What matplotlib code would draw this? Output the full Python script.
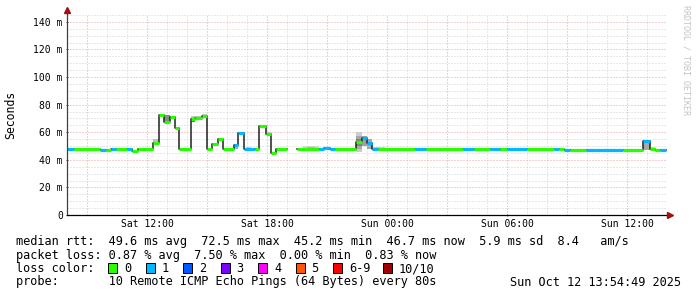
import matplotlib
matplotlib.use("Agg")
import matplotlib.pyplot as plt
from matplotlib.patches import Rectangle
import numpy as np

# median rtt segments (hours since Sat 00:00), ms, loss index
seg_start = [8.0, 8.35, 9.65, 9.95, 10.2, 10.45, 11.0, 11.25, 11.55, 12.3, 12.6, 12.85, 13.15, 13.4,
             13.6, 14.2, 14.4, 14.75, 15.0, 15.25, 15.55, 15.8, 16.35, 16.55, 16.85, 17.4, 17.6, 17.95,
             18.2, 18.45, 19.5, 20.6, 20.85, 21.15, 21.4, 22.45, 22.75, 23.0, 23.25, 23.55, 25.4, 25.95,
             27.8, 28.35, 29.15, 29.65, 30.0, 31.0, 32.35, 32.6, 32.85, 33.15, 33.95, 35.8, 36.8, 37.15,
             37.4, 37.65]
seg_end = seg_start[1:] + [37.95]
seg_end[29] = 19.0  # no data between 19:00 and 19:30
median = [47.5, 47.5, 47.0, 47.0, 47.5, 47.5, 47.5, 46.2, 47.5, 52.0, 72.3, 67.7, 71.0, 63.0,
          47.5, 69.6, 70.0, 71.5, 47.5, 51.7, 55.1, 47.5, 51.0, 59.3, 47.5, 47.5, 64.8, 59.0,
          45.2, 47.5, 47.5, 47.6, 48.6, 47.5, 47.5, 53.2, 55.8, 52.5, 47.5, 47.5, 47.5, 47.5,
          47.5, 47.5, 47.5, 47.5, 47.5, 47.5, 47.5, 47.5, 46.8, 46.8, 46.8, 46.8, 53.6, 47.8,
          46.8, 46.8]
loss = [1, 0, 1, 0, 1, 0, 1, 0, 0, 0, 0, 0, 0, 0,
        0, 0, 0, 0, 0, 0, 0, 0, 1, 1, 1, 0, 0, 0,
        0, 0, 0, 1, 1, 1, 0, 0, 1, 1, 1, 0, 1, 0,
        1, 0, 1, 0, 1, 0, 1, 0, 1, 0, 1, 0, 1, 0,
        0, 1]

# smoke (spread of the pings): start, end, low, high, shade
smoke_start = [11.8, 12.3, 12.3, 12.85, 14.2, 14.2, 14.75, 15.0, 16.35, 16.95, 17.95, 19.8, 20.0,
               21.4, 22.45, 22.45, 22.45, 22.75, 23.0, 23.25, 24.05, 26.45, 31.55, 36.35, 36.8, 37.15]
smoke_end = [12.0, 12.6, 12.6, 13.15, 14.75, 14.4, 15.0, 15.25, 16.55, 17.2, 18.2, 20.6, 20.4,
             21.65, 22.75, 22.75, 22.75, 23.0, 23.25, 23.9, 24.8, 26.75, 31.8, 36.55, 37.15, 37.4]
smoke_lo = [47.5, 50.5, 50.5, 67.0, 69.0, 67.5, 71.0, 47.5, 47.5, 47.5, 58.0, 47.5, 48.5,
            47.5, 45.5, 48.0, 50.0, 50.0, 47.5, 47.5, 47.5, 47.5, 47.5, 46.8, 46.8, 47.8]
smoke_hi = [48.5, 55.0, 52.0, 72.5, 72.0, 70.0, 73.0, 48.5, 51.0, 49.5, 60.0, 50.0, 49.5,
            48.5, 60.5, 57.0, 55.0, 57.0, 55.0, 49.5, 48.3, 48.3, 48.3, 48.0, 53.0, 49.3]
smoke_shade = ['#d0d0d0', '#c0c0c0', '#808080', '#8a8a8a', '#c4c4c4', '#707070', '#c8c8c8', '#d4d4d4',
               '#b0b0b0', '#d0d0d0', '#c8c8c8', '#d4d4d4', '#b8b8b8', '#d4d4d4', '#cccccc', '#a8a8a8',
               '#808080', '#a0a0a0', '#a8a8a8', '#d0d0d0', '#d4d4d4', '#d4d4d4', '#d0d0d0', '#d0d0d0',
               '#a8a8a8', '#d0d0d0']

loss_colors = ['#26ff00', '#00b8ff', '#0059ff', '#7e00ff', '#ff00ff', '#ff5500', '#ff0000', '#a10000']
loss_labels = ['0', '1', '2', '3', '4', '5', '6-9', '10/10']

y_ticks = [0, 20, 40, 60, 80, 100, 120, 140]
y_ticklabels = ['0', '20 m', '40 m', '60 m', '80 m', '100 m', '120 m', '140 m']
x_ticks = [12, 18, 24, 30, 36]
x_ticklabels = ['Sat 12:00', 'Sat 18:00', 'Sun 00:00', 'Sun 06:00', 'Sun 12:00']

legend_lines = [
    "median rtt:  49.6 ms avg  72.5 ms max  45.2 ms min  46.7 ms now  5.9 ms sd  8.4   am/s",
    "packet loss: 0.87 % avg  7.50 % max  0.00 % min  0.83 % now",
    "loss color:",
    "probe:       10 Remote ICMP Echo Pings (64 Bytes) every 80s",
]
stamp = "Sun Oct 12 13:54:49 2025"

W, H = 697, 297
mono = 'DejaVu Sans Mono'
fig = plt.figure(figsize=(W / 100, H / 100), dpi=100)
ax = fig.add_axes([67 / W, (H - 215) / H, 600 / W, 200 / H])
ax.set_xlim(8, 38)
ax.set_ylim(0, 145)

# grid
for h in np.arange(9, 38, 1):
    major = (h % 3 == 0)
    ax.axvline(h, color='#e8a4a4' if major else '#d2d2d2', lw=0.72, ls=(0, (1, 2)), zorder=0)
for v in np.arange(5, 146, 5):
    major = (v % 20 == 0)
    ax.axhline(v, color='#e8a4a4' if major else '#d2d2d2', lw=0.72, ls=(0, (1, 2)), zorder=0)

# smoke
for s, e, lo, hi, c in zip(smoke_start, smoke_end, smoke_lo, smoke_hi, smoke_shade):
    ax.fill_between([s, e], lo, hi, color=c, lw=0, zorder=1)

# black step line connecting medians
xs, ys = [], []
for i in range(len(seg_start)):
    if i > 0 and seg_start[i] > seg_end[i - 1] + 1e-6:
        xs.append(np.nan)
        ys.append(np.nan)
    xs += [seg_start[i], seg_end[i]]
    ys += [median[i], median[i]]
ax.plot(xs, ys, color='#202020', lw=1.1, zorder=2)

# coloured median by loss
for s, e, m, l in zip(seg_start, seg_end, median, loss):
    ax.hlines(m, s, e, color=loss_colors[l], lw=2.3, zorder=3)

# axes
for sp in ['top', 'right', 'left', 'bottom']:
    ax.spines[sp].set_visible(False)
ax.plot([0, 0], [0, 1.025], transform=ax.transAxes, color='#404040', lw=0.9, clip_on=False, zorder=4)
ax.plot([0, 1.005], [0, 0], transform=ax.transAxes, color='#000000', lw=0.9, clip_on=False, zorder=4)
ax.plot([0], [1.025], marker='^', ms=4, color='#a01010', transform=ax.transAxes, clip_on=False, zorder=5)
ax.plot([1.005], [0], marker='>', ms=4, color='#a01010', transform=ax.transAxes, clip_on=False, zorder=5)

ax.set_yticks(y_ticks)
ax.set_yticklabels(y_ticklabels, family=mono, fontsize=7)
ax.set_xticks(x_ticks)
ax.set_xticklabels(x_ticklabels, family=mono, fontsize=7)
ax.tick_params(axis='both', length=2, width=0.7, color='#404040', direction='inout', pad=2)
ax.set_ylabel('Seconds', family=mono, fontsize=8.3, labelpad=12)

fig.text(686 / W, 1 - 5 / H, "RRDTOOL / TOBI OETIKER", rotation=270, ha='center', va='top',
         family=mono, fontsize=6, color='#c4c4c4')

line_y = [241, 255, 268.5, 282]
for txt, y in zip(legend_lines, line_y):
    fig.text(16 / W, 1 - y / H, txt, family=mono, fontsize=8.6, va='center', ha='left')
fig.text(681 / W, 1 - line_y[3] / H, stamp, family=mono, fontsize=8.6, va='center', ha='right')

box_x = [108, 145.5, 183, 220.5, 258, 295.5, 333, 383]
for bx, c, lab in zip(box_x, loss_colors, loss_labels):
    fig.add_artist(Rectangle((bx / W, 1 - 273 / H), 9 / W, 10 / H, transform=fig.transFigure,
                             facecolor=c, edgecolor='black', lw=0.7))
    fig.text((bx + 16) / W, 1 - line_y[2] / H, lab, family=mono, fontsize=8.6, va='center', ha='left')

fig.savefig('out.png', dpi=100, facecolor='white')
